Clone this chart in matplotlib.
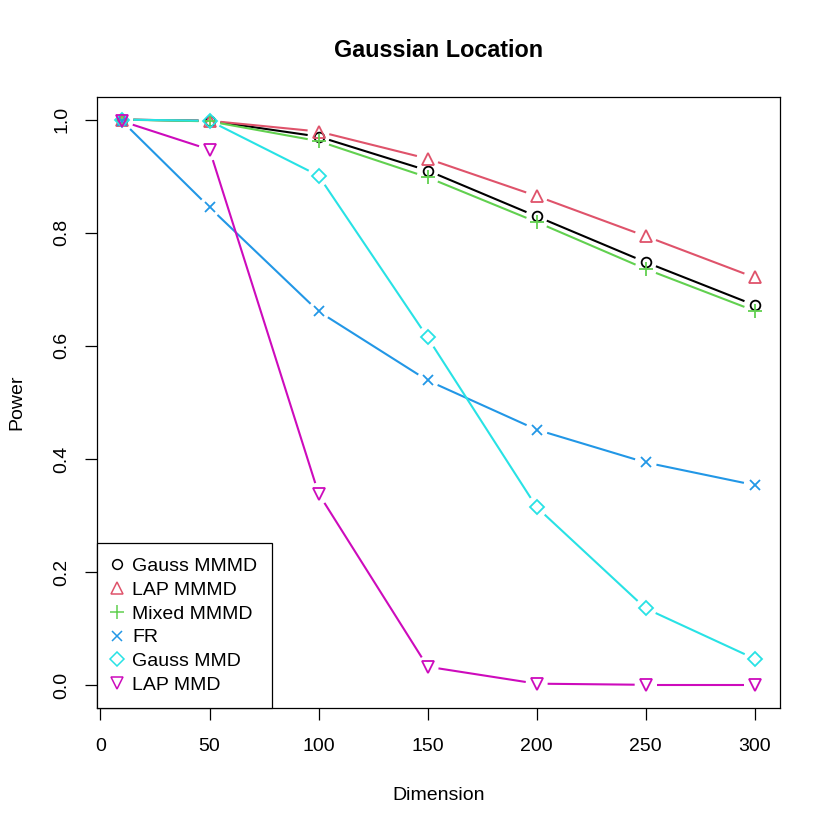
import matplotlib.pyplot as plt
from matplotlib.lines import Line2D
import numpy as np

plt.rcParams['font.family'] = ['Liberation Sans', 'DejaVu Sans']

# Datos
dimension = [10, 50, 100, 150, 200, 250, 300]
gauss_mmmd = [1.000, 0.998, 0.970, 0.910, 0.829, 0.748, 0.672]
lap_mmmd = [1.000, 0.998, 0.979, 0.931, 0.865, 0.794, 0.721]
mixed_mmmd = [1.000, 0.997, 0.962, 0.898, 0.819, 0.736, 0.662]
fr = [0.997, 0.845, 0.661, 0.539, 0.452, 0.394, 0.354]
gauss_mmd = [1.000, 0.998, 0.901, 0.615, 0.315, 0.136, 0.047]
lap_mmd = [0.997, 0.947, 0.339, 0.033, 0.003, 0.001, 0.001]

etiquetas = ['Gauss MMMD', 'LAP MMMD', 'Mixed MMMD', 'FR', 'Gauss MMD', 'LAP MMD']
series = [gauss_mmmd, lap_mmmd, mixed_mmmd, fr, gauss_mmd, lap_mmd]
colores = ['#000000', '#DF536B', '#61D04F', '#2297E6', '#28E2E5', '#CD0BBC']
marcadores = ['o', '^', '+', 'x', 'D', 'v']
tamanos = [7, 9, 9.5, 7, 7, 9]

fig = plt.figure(figsize=(8.3, 8.3), dpi=100)
ax = fig.add_axes([97 / 830, 122 / 830, 683 / 830, 611 / 830])
ax.set_xlim(-1.6, 311.6)
ax.set_ylim(-0.04, 1.04)

# Estilo type="b" de R: lineas con hueco alrededor de los puntos
gap = 11  # pixeles
def linea_con_huecos(x, y, color):
    pts = ax.transData.transform(np.column_stack([x, y]))
    inv = ax.transData.inverted()
    for p0, p1 in zip(pts[:-1], pts[1:]):
        d = p1 - p0
        L = np.hypot(*d)
        if L <= 2 * gap:
            continue
        u = d / L
        a = inv.transform(p0 + u * gap)
        b = inv.transform(p1 - u * gap)
        ax.plot([a[0], b[0]], [a[1], b[1]], color=color, lw=1.5,
                solid_capstyle='butt')

handles = []
for s, c, m, ms, lab in zip(series, colores, marcadores, tamanos, etiquetas):
    linea_con_huecos(dimension, s, c)
    ax.plot(dimension, s, linestyle='none', marker=m, markersize=ms,
            markerfacecolor='none', markeredgecolor=c, markeredgewidth=1.3)
    handles.append(Line2D([], [], linestyle='none', marker=m, markersize=ms,
                          markerfacecolor='none', markeredgecolor=c,
                          markeredgewidth=1.1, label=lab))

ax.set_xticks([0, 50, 100, 150, 200, 250, 300])
ax.set_yticks([0.0, 0.2, 0.4, 0.6, 0.8, 1.0])
ax.set_yticklabels(['0.0', '0.2', '0.4', '0.6', '0.8', '1.0'],
                   rotation=90, va='center')
ax.tick_params(length=8.4, width=0.9, labelsize=14, pad=11)
ax.tick_params(axis='x', pad=13)
for sp in ax.spines.values():
    sp.set_linewidth(0.9)

ax.set_xlabel('Dimension', fontsize=14, labelpad=23)
ax.set_ylabel('Power', fontsize=14, labelpad=20)
ax.set_title('Gaussian Location', fontsize=16.8, fontweight='bold', pad=29)

leg = ax.legend(handles=handles, loc='lower left', bbox_to_anchor=(0, 0),
                borderaxespad=0, fontsize=14, fancybox=False,
                edgecolor='black', framealpha=1, labelspacing=0.32,
                handletextpad=0.5, handlelength=0.6, borderpad=0.72)
leg.get_frame().set_linewidth(0.9)

plt.savefig('out.png', dpi=100)
plt.close(fig)
